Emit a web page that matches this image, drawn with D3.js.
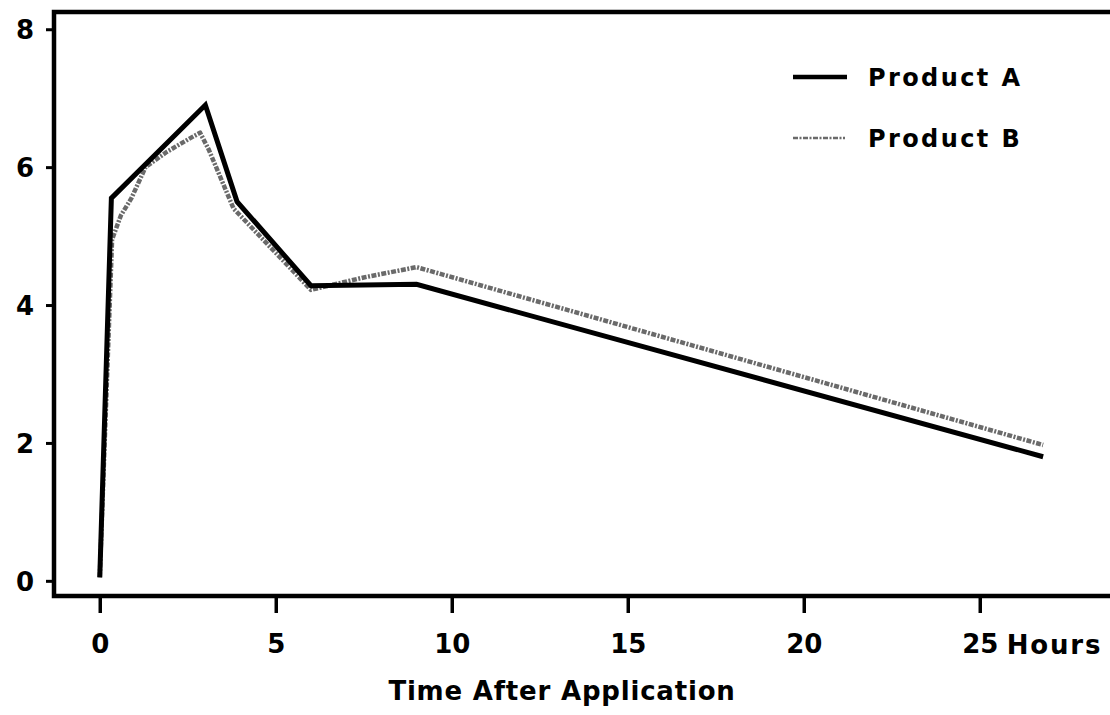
<!DOCTYPE html>
<html>
<head>
<meta charset="utf-8">
<script src="https://cdn.jsdelivr.net/npm/d3@7"></script>
<style>
  body { margin: 0; background: #fff; }
  svg { display: block; }
  text { font-family: "DejaVu Sans", sans-serif; font-weight: bold; fill: #000; }
</style>
</head>
<body>
<svg id="chart" width="1110" height="715"></svg>
<script>
// hours after application
const hoursA = [0, 0.33, 3.0, 3.9, 6.0, 9.0, 26.8];
const productA = [0.05, 5.55, 6.9, 5.5, 4.28, 4.3, 1.8];

const hoursB = [0, 0.35, 0.6, 0.9, 1.3, 1.9, 2.5, 2.85, 3.1, 3.8, 6.0, 7.5, 9.0, 26.8];
const productB = [0.05, 4.95, 5.3, 5.55, 6.0, 6.22, 6.4, 6.5, 6.25, 5.4, 4.22, 4.4, 4.55, 1.97];

const xTicks = [0, 5, 10, 15, 20, 25];
const yTicks = [0, 2, 4, 6, 8];
const seriesNames = ["Product A", "Product B"];
const xTitle = "Time After Application";

const plotLeft = 54, plotRight = 1110, plotTop = 12, plotBottom = 596;

const svg = d3.select("#chart");

const x = d3.scaleLinear().domain([-1.3, 28.7]).range([plotLeft, plotRight]);
const y = d3.scaleLinear().domain([-0.22, 8.25]).range([plotBottom, plotTop]);

// y axis (ticks only, frame drawn below)
const yAxis = svg.append("g")
    .attr("transform", `translate(${plotLeft},0)`)
    .call(d3.axisLeft(y).tickValues(yTicks).tickSize(8).tickPadding(12).tickFormat(d3.format("d")));
yAxis.select(".domain").remove();
yAxis.selectAll("line").attr("stroke", "#000").attr("stroke-width", 3);
yAxis.selectAll("text").style("font-size", "26px").attr("dy", "0.36em");

// x axis
const xAxis = svg.append("g")
    .attr("transform", `translate(0,${plotBottom})`)
    .call(d3.axisBottom(x).tickValues(xTicks).tickSize(17).tickPadding(22).tickFormat(d3.format("d")));
xAxis.select(".domain").remove();
xAxis.selectAll("line").attr("stroke", "#000").attr("stroke-width", 3.5);
xAxis.selectAll("text").style("font-size", "26px");

svg.append("text")
    .attr("x", x(25) + 27)
    .attr("y", 654)
    .style("font-size", "26px")
    .style("letter-spacing", "1.8px")
    .text("Hours");

svg.append("text")
    .attr("x", 562)
    .attr("y", 700)
    .attr("text-anchor", "middle")
    .style("font-size", "26px")
    .style("letter-spacing", "0.8px")
    .text(xTitle);

// frame: left, top, bottom
svg.append("path")
    .attr("d", `M${plotRight},${plotTop}H${plotLeft}V${plotBottom}H${plotRight}`)
    .attr("fill", "none")
    .attr("stroke", "#000")
    .attr("stroke-width", 4.5);

const line = d3.line()
    .x(d => x(d[0]))
    .y(d => y(d[1]));

// Product B (grey, mottled)
svg.append("path")
    .datum(hoursB.map((h, i) => [h, productB[i]]))
    .attr("d", line)
    .attr("fill", "none")
    .attr("stroke", "#6a6a6a")
    .attr("stroke-width", 4.5)
    .attr("stroke-linejoin", "round")
    .attr("stroke-dasharray", "5 1.5 2 1.5");

// Product A (black, solid)
svg.append("path")
    .datum(hoursA.map((h, i) => [h, productA[i]]))
    .attr("d", line)
    .attr("fill", "none")
    .attr("stroke", "#000")
    .attr("stroke-width", 5)
    .attr("stroke-linejoin", "miter");

// legend
const legend = svg.append("g");
const legendY = [77, 138];
legend.append("line")
    .attr("x1", 793).attr("x2", 847)
    .attr("y1", legendY[0]).attr("y2", legendY[0])
    .attr("stroke", "#000").attr("stroke-width", 4.5);
legend.append("line")
    .attr("x1", 793).attr("x2", 845)
    .attr("y1", legendY[1]).attr("y2", legendY[1])
    .attr("stroke", "#6a6a6a").attr("stroke-width", 2.5)
    .attr("stroke-dasharray", "5 1.5 2 1.5");
legend.selectAll("text.name")
    .data(seriesNames)
    .enter()
    .append("text")
    .attr("class", "name")
    .attr("x", 868)
    .attr("y", (d, i) => legendY[i])
    .attr("dy", "0.36em")
    .style("font-size", "24px")
    .style("letter-spacing", "2.4px")
    .text(d => d);
</script>
</body>
</html>
